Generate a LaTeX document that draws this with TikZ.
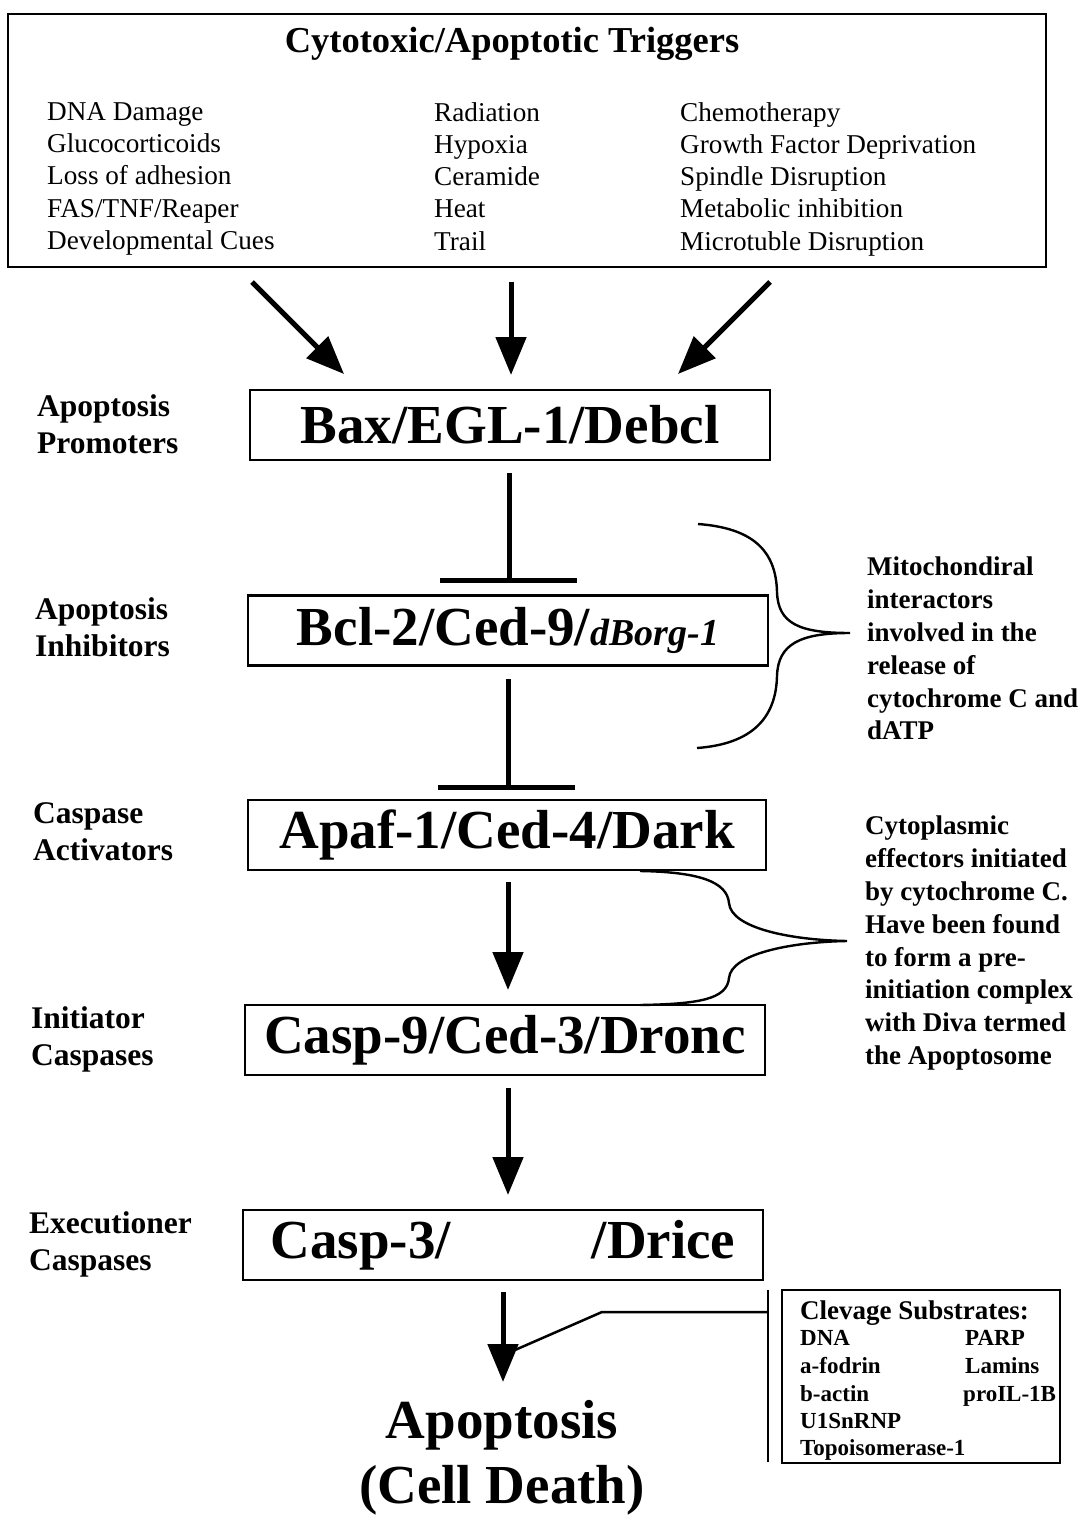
\documentclass[tikz,border=0pt]{standalone}
\usepackage{fontspec}
\setmainfont{Liberation Serif}
\usetikzlibrary{arrows.meta}
\newcommand{\fsz}[1]{\fontsize{#1}{1.2\dimexpr#1pt\relax}\selectfont}
\begin{document}
\begin{tikzpicture}[x=1pt,y=-1pt,
  mainbox/.style={draw,line width=2.5pt,minimum width=520pt,minimum height=70pt,inner sep=0pt,font=\bfseries\fsz{55}},
  sidelbl/.style={anchor=north west,align=left,inner sep=0pt,font=\bfseries\fontsize{31.5}{37}\selectfont},
  note/.style={anchor=north west,align=left,inner sep=0pt,font=\bfseries\fontsize{27}{32.8}\selectfont},
  trig/.style={anchor=north west,align=left,inner sep=0pt,font=\fontsize{27.2}{32.3}\selectfont},
  subst/.style={anchor=base west,inner sep=0pt,font=\bfseries\fontsize{23}{26}\selectfont},
  arr/.style={line width=5pt,-{Triangle[length=38pt,width=30pt]}},
  inh/.style={line width=5pt},
  thin/.style={line width=2.5pt}]
\useasboundingbox (0,0) rectangle (1080,1517);

% top box
\node[draw,line width=2.5pt,minimum width=1038pt,minimum height=253pt,inner sep=0pt] (top) at (527,140.5) {};
\node[font=\bfseries\fsz{36.5}] (title) at (512,44) {Cytotoxic/Apoptotic Triggers};
\node[trig] (c1) at (47,102) {DNA Damage\\Glucocorticoids\\Loss of adhesion\\FAS/TNF/Reaper\\Developmental Cues};
\node[trig] (c2) at (434,102) {Radiation\\Hypoxia\\Ceramide\\Heat\\Trail};
\node[trig] (c3) at (680,102) {Chemotherapy\\Growth Factor Deprivation\\Spindle Disruption\\Metabolic inhibition\\Microtuble Disruption};

% main boxes
\node[mainbox] (bax) at (510,425) {Bax/EGL-1/Debcl};
\node[mainbox] (bcl) at (508,630.5) {Bcl-2/Ced-9/{\bfseries\itshape\fsz{38}dBorg-1}};
\node[mainbox,minimum width=518pt] (apaf) at (507,835) {Apaf-1/Ced-4/Dark};
\node[mainbox] (casp9) at (505,1040) {Casp-9/Ced-3/Dronc};
\node[mainbox] (casp3) at (503,1245) {Casp-3/\hspace{141pt}/Drice};

% left labels
\node[sidelbl] (l1) at (37,394) {Apoptosis\\Promoters};
\node[sidelbl] (l2) at (35,597) {Apoptosis\\Inhibitors};
\node[sidelbl] (l3) at (33,802) {Caspase\\Activators};
\node[sidelbl] (l4) at (31,1006) {Initiator\\Caspases};
\node[sidelbl] (l5) at (29,1211) {Executioner\\Caspases};

% arrows from triggers
\coordinate (a1s) at (252,282); \coordinate (a1e) at (344,374);
\coordinate (a2s) at (511,282); \coordinate (a2e) at (511,375);
\coordinate (a3s) at (770,282); \coordinate (a3e) at (678,374);
\draw[arr] (a1s) -- (a1e);
\draw[arr] (a2s) -- (a2e);
\draw[arr] (a3s) -- (a3e);

% inhibition
\draw[inh] (bax.south -| 509,0) ++(0,12) coordinate (i1s) -- (509,580) coordinate (i1e);
\draw[inh] (440,580) -- (i1e) -- (577,580);
\draw[inh] (bcl.south -| 508,0) ++(0,12) coordinate (i2s) -- (508,787) coordinate (i2e);
\draw[inh] (438,787) -- (i2e) -- (575,787);

% activation arrows
\draw[arr] (508,882) -- (508,990);
\draw[arr] (508,1088) -- (508,1195);
\draw[arr] (503,1292) coordinate (a6s) -- (503,1382) coordinate (a6e);

% final text
\node[font=\bfseries\fontsize{55}{65}\selectfont,align=center] (apo) at (502,1458) {Apoptosis\\(Cell Death)};

% braces
\draw[line width=2.4pt] (698,524) .. controls (752,528) and (776,550) .. (777,592)
  .. controls (778,624) and (800,633) .. (850,633)
  .. controls (800,633) and (778,644) .. (777,676)
  .. controls (776,718) and (752,744) .. (697,748);
\draw[line width=2.4pt] (640,871) .. controls (700,872) and (727,882) .. (729,903)
  .. controls (731,928) and (790,940) .. (847,941)
  .. controls (790,942) and (731,954) .. (729,978)
  .. controls (727,999) and (700,1004) .. (640,1005);

\node[note] (n1) at (867,557) {Mitochondiral\\interactors\\involved in the\\release of\\cytochrome C and\\dATP};
\node[note] (n2) at (865,816) {Cytoplasmic\\effectors initiated\\by cytochrome C.\\Have been found\\to form a pre-\\initiation complex\\with Diva termed\\the Apoptosome};

% cleavage substrates
\node[draw,line width=2.5pt,minimum width=278pt,minimum height=173pt,inner sep=0pt] (sub) at (921,1376.5) {};
\coordinate (vb1) at (768,1290); \coordinate (vb2) at (768,1462);
\draw[thin] (vb1) -- (vb2);
\coordinate (k1) at (515,1350); \coordinate (k2) at (602,1312);
\draw[thin] (k1) -- (k2) -- (k2 -| vb1);
\node[anchor=base west,inner sep=0pt,font=\bfseries\fsz{27}] (st) at (800,1319) {Clevage Substrates:};
\node[subst] (s1) at (800,1345) {DNA};
\node[subst] (s2) at (800,1373) {a-fodrin};
\node[subst] (s3) at (800,1401) {b-actin};
\node[subst] (s4) at (800,1428) {U1SnRNP};
\node[subst] (s5) at (800,1455) {Topoisomerase-1};
\node[subst] (s6) at (965,1345) {PARP};
\node[subst] (s7) at (965,1373) {Lamins};
\node[subst] (s8) at (963,1401) {proIL-1B};
\end{tikzpicture}
\end{document}
